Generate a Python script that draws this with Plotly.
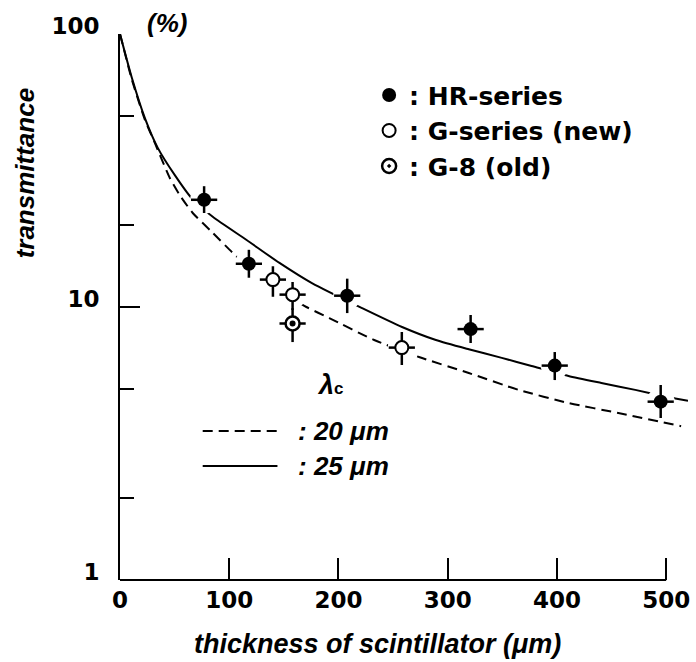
import plotly.graph_objects as go

# Measured transmittance (%) vs scintillator thickness (um)
hr_x = [77, 118, 208, 321, 398, 495]
hr_y = [24.7, 14.4, 11.0, 8.3, 6.1, 4.5]
hr_err_plus = [3.0, 1.8, 1.7, 1.05, 0.74, 0.68]
hr_err_minus = [2.6, 1.6, 1.5, 0.92, 0.70, 0.58]

g_x = [140, 158, 258]
g_y = [12.6, 11.1, 7.1]
g_err_plus = [1.5, 1.25, 1.0]
g_err_minus = [1.7, 1.35, 0.97]

g8_x = [158]
g8_y = [8.7]
g8_err_plus = [1.2]
g8_err_minus = [1.26]

x_err = 12  # thickness uncertainty (um)

# Calculated curves for two cut-off wavelengths
curve20_x = [0, 10.9, 22.8, 31.9, 45.6, 54.7, 66.6, 84.9, 103.1, 127.7, 148.7,
             170.6, 191.6, 232.7, 273.7, 319.3, 365.0, 410.6, 456.2, 513.7]
curve20_y = [100, 68.0, 48.5, 39.9, 29.7, 25.7, 22.1, 18.7, 15.8, 12.9, 11.25,
             10.0, 9.11, 7.57, 6.56, 5.73, 4.97, 4.45, 4.09, 3.66]

curve25_x = [0, 10.9, 22.8, 34.7, 50.2, 65.7, 84.9, 115.9, 146.0, 176.1, 221.7,
             258.2, 289.2, 319.3, 349.5, 376.8, 410.6, 440.7, 471.7, 501.8, 520]
curve25_y = [100, 69.0, 49.2, 38.2, 30.4, 25.0, 21.4, 17.6, 14.5, 12.2, 9.9,
             8.45, 7.57, 7.0, 6.51, 6.08, 5.59, 5.27, 4.97, 4.68, 4.53]

x_ticks = [0, 100, 200, 300, 400, 500]
y_ticks = [1, 10, 100]
y_minor = [2, 5, 20, 50]

SANS = "DejaVu Sans"
ITAL = "Liberation Sans"
INK = "black"

fig = go.Figure()

fig.add_trace(go.Scatter(x=curve20_x, y=curve20_y, mode="lines",
                         line=dict(color=INK, width=2, dash="10px,6px", shape="spline", smoothing=0.6),
                         showlegend=False, hoverinfo="skip"))
fig.add_trace(go.Scatter(x=curve25_x, y=curve25_y, mode="lines",
                         line=dict(color=INK, width=2, shape="spline", smoothing=0.6),
                         showlegend=False, hoverinfo="skip"))

# white halo so curves break around the data points
fig.add_trace(go.Scatter(x=hr_x + g_x + g8_x, y=hr_y + g_y + g8_y, mode="markers",
                         marker=dict(size=28, color="white", line=dict(width=0)),
                         showlegend=False, hoverinfo="skip"))


def err_y(plus, minus):
    return dict(type="data", symmetric=False, array=plus, arrayminus=minus,
                color=INK, thickness=2.5, width=0)


def err_x():
    return dict(type="constant", value=x_err, color=INK, thickness=2.5, width=0)


fig.add_trace(go.Scatter(x=hr_x, y=hr_y, mode="markers", name=": HR-series",
                         marker=dict(size=14, color=INK, line=dict(width=0)),
                         error_y=err_y(hr_err_plus, hr_err_minus), error_x=err_x()))
fig.add_trace(go.Scatter(x=g_x, y=g_y, mode="markers", name=": G-series (new)",
                         marker=dict(size=13, color="white", line=dict(width=2, color=INK)),
                         error_y=err_y(g_err_plus, g_err_minus), error_x=err_x()))
fig.add_trace(go.Scatter(x=g8_x, y=g8_y, mode="markers", name=": G-8 (old)",
                         marker=dict(size=14, color="white", symbol="circle-dot",
                                     line=dict(width=2.5, color=INK)),
                         error_y=err_y(g8_err_plus, g8_err_minus), error_x=err_x()))
fig.add_trace(go.Scatter(x=g8_x, y=g8_y, mode="markers",
                         marker=dict(size=6, color=INK, line=dict(width=0)),
                         showlegend=False, hoverinfo="skip"))


def note(text, x, y, size, **kw):
    base = dict(text=text, xref="paper", yref="paper", x=x, y=y, showarrow=False,
                xanchor="center", yanchor="middle",
                font=dict(family=ITAL, size=size, weight="bold", color=INK))
    base.update(kw)
    return base


annotations = [
    note("<i>(%)</i>", 0.0439, 1.021, 26, xanchor="left"),
    note("<i>transmittance</i>", -0.167, 0.745, 26, textangle=-90),
    note("<i>thickness of scintillator (\u03bcm)</i>", 0.4526, -0.117, 27),
    note("<i>\u03bb</i><span style='font-size:17px'>c</span>", 0.370, 0.357, 27),
    note("<i>: 20 \u03bcm</i>", 0.3105, 0.273, 26, xanchor="left"),
    note("<i>: 25 \u03bcm</i>", 0.3105, 0.209, 26, xanchor="left"),
]

shapes = [
    # x axis line, stops at 500 um
    dict(type="line", xref="x", yref="paper", x0=0, x1=500, y0=0, y1=0,
         line=dict(color=INK, width=2)),
    # line-style key for the two curves
    dict(type="line", xref="paper", yref="paper", x0=0.1456, x1=0.2772, y0=0.273, y1=0.273,
         line=dict(color=INK, width=2, dash="10px,6px")),
    dict(type="line", xref="paper", yref="paper", x0=0.1456, x1=0.2772, y0=0.209, y1=0.209,
         line=dict(color=INK, width=2)),
]

fig.update_layout(
    width=696, height=662,
    margin=dict(l=120, r=6, t=34, b=82),
    paper_bgcolor="white", plot_bgcolor="white",
    font=dict(family=SANS, color=INK, size=24),
    showlegend=True,
    legend=dict(x=0.4386, y=0.93, xanchor="left", yanchor="top",
                bgcolor="rgba(0,0,0,0)", font=dict(family=SANS, size=25, weight="bold"),
                tracegroupgap=0, itemclick=False, itemdoubleclick=False),
    annotations=annotations,
    shapes=shapes,
    xaxis=dict(range=[0, 520], tickmode="array", tickvals=x_ticks,
               ticktext=[str(v) for v in x_ticks],
               ticks="inside", ticklen=22, tickwidth=2, tickcolor=INK,
               showline=False, showgrid=False, zeroline=False,
               tickfont=dict(family=SANS, size=23, weight="bold"), ticklabelstandoff=4),
    yaxis=dict(type="log", range=[0, 2], tickmode="array", tickvals=y_ticks,
               ticktext=[str(v) for v in y_ticks],
               ticks="inside", ticklen=20, tickwidth=2, tickcolor=INK,
               minor=dict(tickmode="array", tickvals=y_minor, ticks="inside",
                          ticklen=14, tickwidth=2, tickcolor=INK),
               showline=True, linewidth=2, linecolor=INK,
               showgrid=False, zeroline=False, ticklabelshift=-8,
               tickfont=dict(family=SANS, size=23, weight="bold"), ticklabelstandoff=14),
)

fig.write_html("out.html")
